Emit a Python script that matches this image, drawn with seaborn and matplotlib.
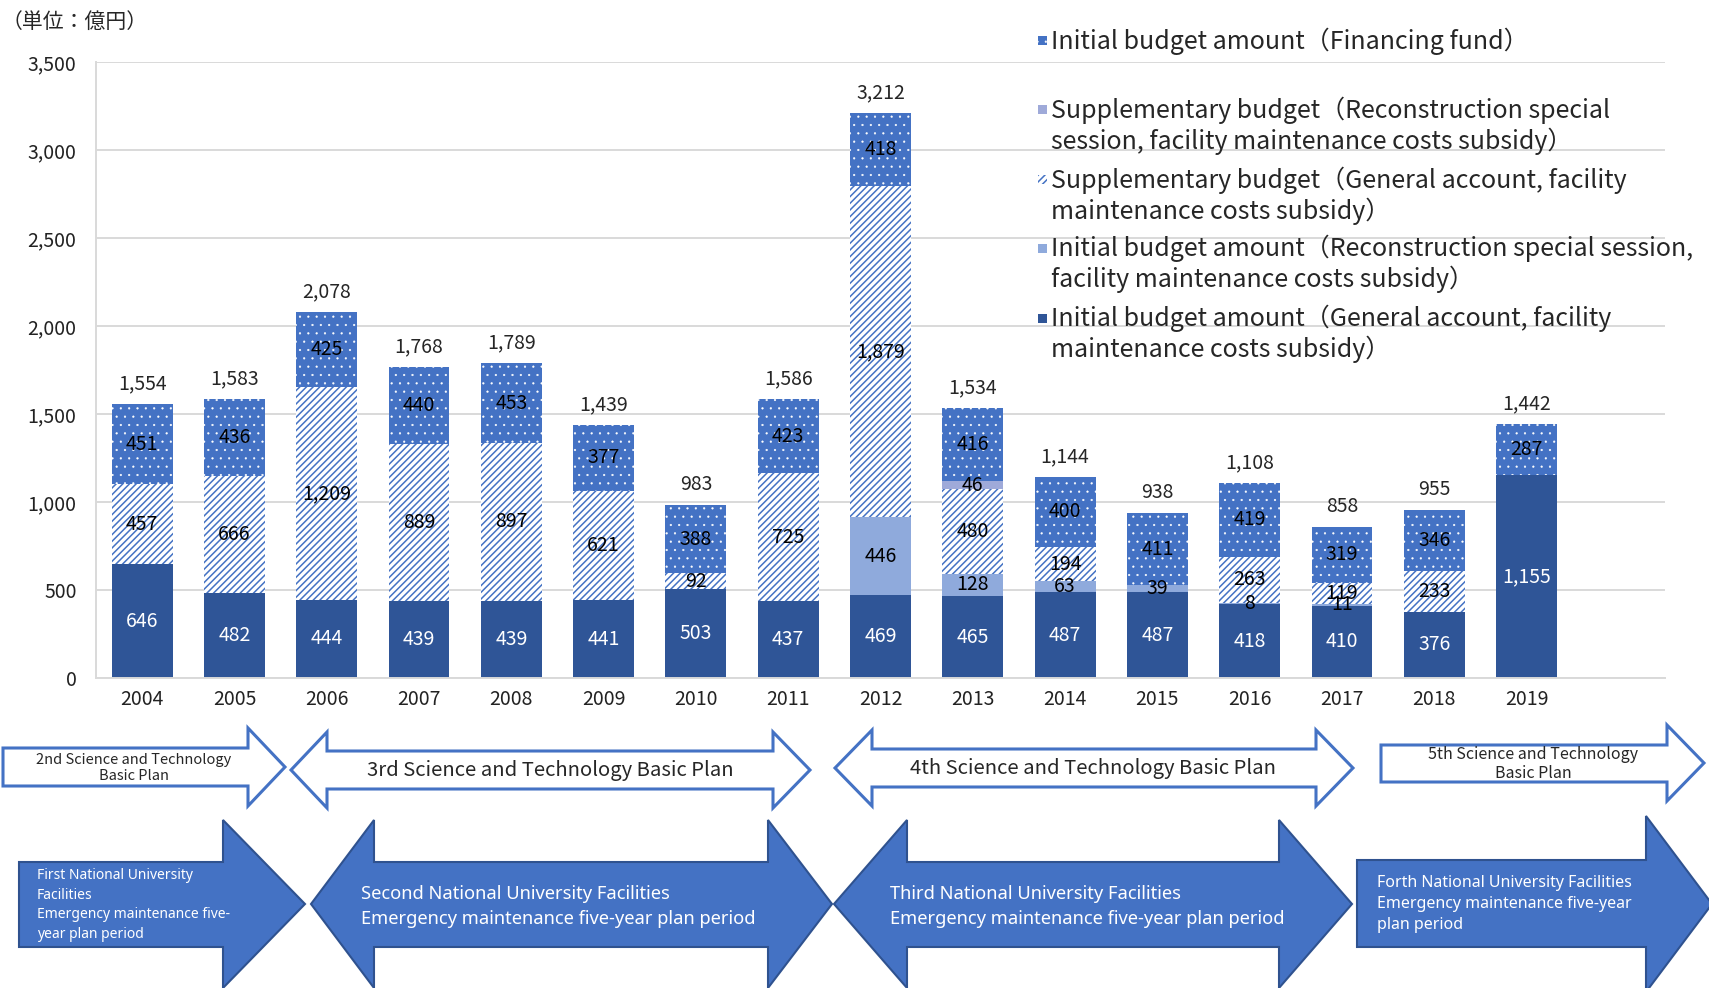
import matplotlib
matplotlib.use("Agg")
import matplotlib.pyplot as plt
from matplotlib.patches import Polygon, Rectangle
from matplotlib.ticker import FuncFormatter
import pandas as pd
import seaborn as sns

# データ（単位：億円）
years = [str(y) for y in range(2004, 2020)]
general_initial = [646, 482, 444, 439, 439, 441, 503, 437, 469, 465, 487, 487, 418, 410, 376, 1155]
recon_initial = [0, 0, 0, 0, 0, 0, 0, 0, 446, 128, 63, 39, 8, 11, 0, 0]
general_supp = [457, 666, 1209, 889, 897, 621, 92, 725, 1879, 480, 194, 0, 263, 119, 233, 0]
recon_supp = [0, 0, 0, 0, 0, 0, 0, 0, 0, 46, 0, 0, 0, 0, 0, 0]
financing = [451, 436, 425, 440, 453, 377, 388, 423, 418, 416, 400, 411, 419, 319, 346, 287]
total_labels = [1554, 1583, 2078, 1768, 1789, 1439, 983, 1586, 3212, 1534, 1144, 938, 1108, 858, 955, 1442]
y_ticks = [0, 500, 1000, 1500, 2000, 2500, 3000, 3500]

legend_labels = [
    "Initial budget amount（Financing fund）",
    "Supplementary budget（Reconstruction special\nsession, facility maintenance costs subsidy）",
    "Supplementary budget（General account, facility\nmaintenance costs subsidy）",
    "Initial budget amount（Reconstruction special session,\nfacility maintenance costs subsidy）",
    "Initial budget amount（General account, facility\nmaintenance costs subsidy）",
]
plan_labels = [
    "2nd Science and Technology\nBasic Plan",
    "3rd Science and Technology Basic Plan",
    "4th Science and Technology Basic Plan",
    "5th Science and Technology\nBasic Plan",
]
period_labels = [
    "First National University\nFacilities\nEmergency maintenance five-\nyear plan period",
    "Second National University Facilities\nEmergency maintenance five-year plan period",
    "Third National University Facilities\nEmergency maintenance five-year plan period",
    "Forth National University Facilities\nEmergency maintenance five-year\nplan period",
]

# 色
c_dark = "#2F5597"
c_recon_init = "#8FAADC"
c_recon_supp = "#9FAAD9"
c_fin = "#4472C4"

sns.set_theme(style="white")
plt.rcParams["font.family"] = ["Noto Sans CJK JP", "DejaVu Sans"]

df = pd.DataFrame({
    "year": years,
    "general_initial": general_initial,
    "recon_initial": recon_initial,
    "general_supp": general_supp,
    "recon_supp": recon_supp,
    "financing": financing,
})
layers = ["general_initial", "recon_initial", "general_supp", "recon_supp", "financing"]
cum = df[layers].cumsum(axis=1)

fig = plt.figure(figsize=(17.09, 9.88), dpi=100)
ax = fig.add_axes([96 / 1709, 1 - 678 / 988, (1665 - 96) / 1709, (678 - 62) / 988])

# 積み上げ（上から順に重ねて描く）
styles = {
    "financing": dict(color=c_fin, hatch="..", edgecolor="white"),
    "recon_supp": dict(color=c_recon_supp, edgecolor=c_recon_supp),
    "general_supp": dict(color="white", hatch="/////", edgecolor=c_fin),
    "recon_initial": dict(color=c_recon_init, edgecolor=c_recon_init),
    "general_initial": dict(color=c_dark, edgecolor=c_dark),
}
hatch_lw = {"financing": 0.35, "general_supp": 1.1}
for layer in layers[::-1]:
    with plt.rc_context({"hatch.linewidth": hatch_lw.get(layer, 1.0)}):
        sns.barplot(x=df["year"], y=cum[layer], order=years, saturation=1, width=0.66,
                    errorbar=None, linewidth=0, ax=ax, **styles[layer])

# 数値ラベル
for i in range(len(years)):
    bottom = 0
    for layer in layers:
        v = df[layer].iloc[i]
        if v > 0:
            col = "white" if layer == "general_initial" else "black"
            ax.text(i, bottom + v / 2, f"{v:,}", ha="center", va="center",
                    fontsize=14, color=col)
        bottom += v
    ax.annotate(f"{total_labels[i]:,}", (i, bottom), xytext=(0, 7),
                textcoords="offset points", ha="center", va="bottom", fontsize=14)

ax.set_xlim(-0.5, 16.5)
ax.set_ylim(0, 3500)
ax.set_yticks(y_ticks)
ax.yaxis.set_major_formatter(FuncFormatter(lambda v, p: f"{int(v):,}"))
ax.set_xlabel("")
ax.set_ylabel("")
ax.tick_params(axis="both", length=0, labelsize=14, colors="#222222")
ax.tick_params(axis="y", pad=14)
ax.tick_params(axis="x", pad=8)
ax.yaxis.grid(True, color="#D9D9D9", linewidth=1.4)
ax.set_axisbelow(True)
for s in ["top", "right"]:
    ax.spines[s].set_visible(False)
for s in ["left", "bottom"]:
    ax.spines[s].set_color("#D9D9D9")
    ax.spines[s].set_linewidth(1.4)

# 注記・凡例・矢印（ピクセル座標の重ね合わせ）
ov = fig.add_axes([0, 0, 1, 1], zorder=3)
ov.set_xlim(0, 1709)
ov.set_ylim(988, 0)
ov.axis("off")
ov.patch.set_alpha(0)

ov.text(2, 22, "（単位：億円）", fontsize=15, va="center", ha="left")

# 凡例
leg_y = [41, 110, 180, 248, 318]
leg_keys = ["financing", "recon_supp", "general_supp", "recon_initial", "general_initial"]
for y, lab, key in zip(leg_y, legend_labels, leg_keys):
    st = styles[key]
    with plt.rc_context({"hatch.linewidth": hatch_lw.get(key, 1.0)}):
        ov.add_patch(Rectangle((1038, y - 4.5), 9, 9, facecolor=st["color"],
                               edgecolor=st["edgecolor"], hatch=st.get("hatch"), linewidth=0))
    for k, line in enumerate(lab.split("\n")):
        ov.text(1051, y + k * 31, line, fontsize=18, va="center", ha="left")


def right_arrow(x0, base, tip, bt, bb, ht, hb, **kw):
    mid = (ht + hb) / 2
    pts = [(x0, bt), (base, bt), (base, ht), (tip, mid), (base, hb), (base, bb), (x0, bb)]
    ov.add_patch(Polygon(pts, closed=True, **kw))


def double_arrow(ltip, lbase, rbase, rtip, bt, bb, ht, hb, **kw):
    mid = (ht + hb) / 2
    pts = [(ltip, mid), (lbase, ht), (lbase, bt), (rbase, bt), (rbase, ht), (rtip, mid),
           (rbase, hb), (rbase, bb), (lbase, bb), (lbase, hb)]
    ov.add_patch(Polygon(pts, closed=True, **kw))


top_kw = dict(facecolor="white", edgecolor="#4472C4", linewidth=2.2)
right_arrow(3, 248, 285, 748, 786, 728, 806, **top_kw)
double_arrow(291, 327, 773, 810, 751, 789, 732, 808, **top_kw)
double_arrow(835, 872, 1316, 1353, 749, 787, 730, 806, **top_kw)
right_arrow(1381, 1667, 1704, 745, 782, 725, 801, **top_kw)

ov.text(134, 768, plan_labels[0], fontsize=10.5, ha="center", va="center", linespacing=1.1)
ov.text(550, 770, plan_labels[1], fontsize=14.6, ha="center", va="center")
ov.text(1093, 768, plan_labels[2], fontsize=14.6, ha="center", va="center")
ov.text(1533, 764, plan_labels[3], fontsize=11.5, ha="center", va="center", linespacing=1.1)

bot_kw = dict(facecolor="#4472C4", edgecolor="#2F528F", linewidth=1.5)
right_arrow(19, 223, 305, 862, 947, 820, 988, **bot_kw)
double_arrow(311, 374, 768, 832, 862, 947, 820, 988, **bot_kw)
double_arrow(834, 907, 1279, 1352, 862, 947, 820, 988, **bot_kw)
right_arrow(1357, 1646, 1712, 860, 947, 816, 992, **bot_kw)

sans = ["Noto Sans", "DejaVu Sans"]
ov.text(37, 905, period_labels[0], fontsize=10, ha="left", va="center", color="white",
        family=sans, linespacing=1.45)
ov.text(361, 906, period_labels[1], fontsize=13.2, ha="left", va="center", color="white",
        family=sans, linespacing=1.5)
ov.text(890, 906, period_labels[2], fontsize=13.2, ha="left", va="center", color="white",
        family=sans, linespacing=1.5)
ov.text(1377, 904, period_labels[3], fontsize=11.5, ha="left", va="center", color="white",
        family=sans, linespacing=1.45)

fig.savefig("out.png", dpi=100)
